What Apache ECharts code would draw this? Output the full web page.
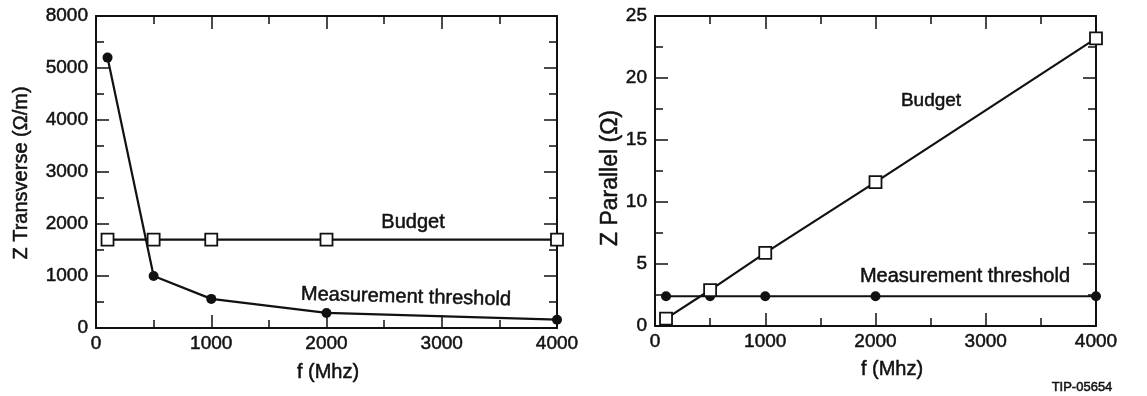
<!DOCTYPE html>
<html>
<head>
<meta charset="utf-8">
<script src="https://cdn.jsdelivr.net/npm/echarts@6/dist/echarts.min.js"></script>
<style>
html,body{margin:0;padding:0;background:#fff;}
#c{width:1147px;height:396px;}
</style>
</head>
<body>
<div id="c"></div>
<script>
// ---- data ----
const freq = [100, 500, 1000, 2000, 4000];
const transBudget = [1700, 1700, 1700, 1700, 1700];
const transMeas = [5200, 1000, 560, 290, 160];
const parBudget = [0.6, 2.9, 5.9, 11.6, 23.2];
const parMeas = [2.4, 2.4, 2.4, 2.4, 2.4];
const xTickLabels = ['0', '1000', '2000', '3000', '4000'];
const yTickLabelsLeft = ['0', '1000', '2000', '3000', '4000', '5000', '8000'];
const yTickLabelsRight = ['0', '5', '10', '15', '20', '25'];

const FONT = '"Liberation Sans", Arial, Helvetica, sans-serif';
const INK = '#111';

function pair(arrX, arrY) { return arrX.map((x, i) => [x, arrY[i]]); }

function labelStyle(extra) {
  return Object.assign({ color: INK, fontFamily: FONT, fontSize: 19,
    textBorderColor: INK, textBorderWidth: 0.5 }, extra);
}

function axisBase(extra) {
  return Object.assign({
    type: 'value',
    axisLine: { show: true, onZero: false, lineStyle: { color: INK, width: 2 } },
    axisTick: { show: true, inside: true, length: 13, lineStyle: { color: INK, width: 1.5 } },
    minorTick: { show: true, splitNumber: 2, length: 8, lineStyle: { color: INK, width: 1.5 } },
    splitLine: { show: false },
    axisLabel: labelStyle({})
  }, extra);
}

const grids = [
  { left: 96, top: 16, width: 461, height: 312 },
  { left: 655, top: 16, width: 441, height: 310 }
];

const xAxes = [
  axisBase({ gridIndex: 0, position: 'bottom', min: 0, max: 4000, interval: 1000,
    axisLabel: labelStyle({ margin: 6, formatter: v => xTickLabels[Math.round(v / 1000)] }) }),
  axisBase({ gridIndex: 0, position: 'top', min: 0, max: 4000, interval: 1000, axisLabel: { show: false } }),
  axisBase({ gridIndex: 1, position: 'bottom', min: 0, max: 4000, interval: 1000,
    axisLabel: labelStyle({ margin: 6, formatter: v => xTickLabels[Math.round(v / 1000)] }) }),
  axisBase({ gridIndex: 1, position: 'top', min: 0, max: 4000, interval: 1000, axisLabel: { show: false } })
];

const yAxes = [
  axisBase({ gridIndex: 0, position: 'left', min: 0, max: 6000, interval: 1000,
    axisLabel: labelStyle({ margin: 8, formatter: v => yTickLabelsLeft[Math.round(v / 1000)] }) }),
  axisBase({ gridIndex: 0, position: 'right', min: 0, max: 6000, interval: 1000, axisLabel: { show: false } }),
  axisBase({ gridIndex: 1, position: 'left', min: 0, max: 25, interval: 5,
    axisLabel: labelStyle({ margin: 8, formatter: v => yTickLabelsRight[Math.round(v / 5)] }) }),
  axisBase({ gridIndex: 1, position: 'right', min: 0, max: 25, interval: 5, axisLabel: { show: false } })
];

function lineSeries(name, xi, yi, data, filled) {
  return {
    name: name, type: 'line', xAxisIndex: xi, yAxisIndex: yi,
    data: data,
    symbol: filled ? 'circle' : 'rect',
    symbolSize: filled ? 10 : 12,
    showAllSymbol: true,
    lineStyle: { color: INK, width: 2.2 },
    itemStyle: filled ? { color: INK, borderWidth: 0 } : { color: '#fff', borderColor: INK, borderWidth: 1.8 },
    z: filled ? 3 : 4,
    animation: false,
    silent: true
  };
}

const series = [
  lineSeries('Measurement threshold', 0, 0, pair(freq, transMeas), true),
  lineSeries('Budget', 0, 0, pair(freq, transBudget), false),
  lineSeries('Measurement threshold', 2, 2, pair(freq, parMeas), true),
  lineSeries('Budget', 2, 2, pair(freq, parBudget), false)
];

function txt(x, y, s, size, opts) {
  return Object.assign({
    type: 'text', x: x, y: y,
    style: { text: s, fill: INK, stroke: INK, lineWidth: 0.5,
      font: size + 'px ' + FONT, textAlign: 'center', textVerticalAlign: 'middle' }
  }, opts || {});
}

const graphic = [
  txt(21, 173, 'Z Transverse (Ω/m)', 20, { rotation: Math.PI / 2 }),
  txt(611, 178, 'Z Parallel (Ω)', 23, { rotation: Math.PI / 2 }),
  txt(328, 372, 'f (Mhz)', 20),
  txt(892, 369, 'f (Mhz)', 20),
  txt(413, 222, 'Budget', 20),
  txt(406, 297, 'Measurement threshold', 20, { rotation: -0.027 }),
  txt(931, 101, 'Budget', 19),
  txt(965, 276, 'Measurement threshold', 20),
  txt(1082, 387, 'TIP-05654', 13)
];

const chart = echarts.init(document.getElementById('c'), null, { renderer: 'canvas' });
chart.setOption({
  backgroundColor: '#fff',
  animation: false,
  grid: grids,
  xAxis: xAxes,
  yAxis: yAxes,
  series: series,
  graphic: graphic
});
</script>
</body>
</html>
